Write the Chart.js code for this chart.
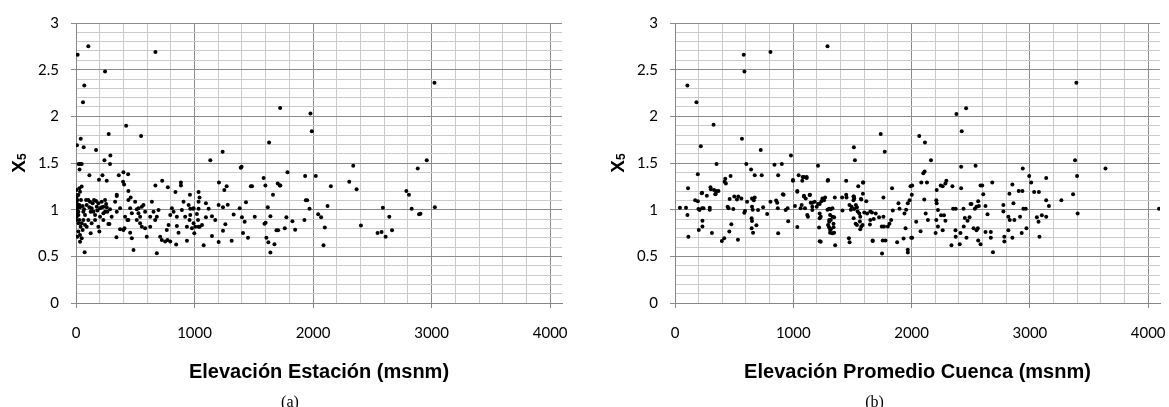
<!DOCTYPE html>
<html lang="es">

<head>
    <meta charset="UTF-8">
    <script src="https://cdn.jsdelivr.net/npm/chart.js"></script>
    <title>x5 vs elevación</title>
    <style>
        body { margin: 0; background: #fff; }
        .graficos { display: flex; width: 1169px; height: 407px; }
        .panel { position: relative; height: 407px; }
        .panel canvas { display: block; }
        .letra {
            position: absolute; left: 0; right: 0; top: 393px;
            text-align: center; line-height: 16px;
            font: 16px "Liberation Serif", serif; color: #000;
        }
    </style>
</head>

<body>
    <div class="graficos">
        <div class="panel" style="width:580px">
            <canvas id="graficoEstacion" width="580" height="407"></canvas>
            <div class="letra">(a)</div>
        </div>
        <div class="panel" style="width:589px">
            <canvas id="graficoCuenca" width="589" height="407"></canvas>
            <div class="letra">(b)</div>
        </div>
    </div>
</body>

</html>
<script>
    // marcas principales de los ejes
    const ticksElevacion = [0, 1000, 2000, 3000, 4000];
    const ticksX5 = [0, 0.5, 1, 1.5, 2, 2.5, 3];

    // (a) [elevación estación (msnm), x5]
    const estacion = [
        [14,2.66],[104,2.75],[245,2.48],[70,2.33],[59,2.15],[670,2.69],[423,1.90],[549,1.79],[276,1.81],[40,1.76],
        [8,1.69],[65,1.67],[169,1.64],[290,1.58],[240,1.53],[287,1.49],[22,1.49],[35,1.49],[48,1.49],[1133,1.53],
        [1237,1.62],[1397,1.46],[1390,1.45],[1629,1.72],[1722,2.09],[1784,1.40],[30,1.43],[113,1.37],[223,1.37],[259,1.31],
        [194,1.32],[400,1.40],[440,1.38],[361,1.37],[397,1.30],[406,1.27],[670,1.26],[727,1.31],[885,1.29],[885,1.26],
        [1206,1.29],[1271,1.25],[1251,1.21],[1485,1.25],[1475,1.25],[1583,1.34],[1598,1.26],[1702,1.28],[1720,1.26],[1662,1.16],
        [839,1.19],[961,1.16],[1034,1.19],[1042,1.13],[344,1.16],[442,1.20],[461,1.13],[775,1.24],[1978,2.03],[1989,1.84],
        [3024,2.36],[2959,1.53],[2883,1.44],[2339,1.47],[2305,1.30],[2367,1.22],[1724,1.26],[1933,1.36],[2023,1.36],[2150,1.25],
        [1939,1.10],[1950,1.10],[1970,1.01],[2122,1.04],[2043,0.95],[2068,0.92],[2099,0.81],[2088,0.62],[1775,0.92],[1826,0.875],
        [1761,0.80],[1849,0.785],[1927,0.89],[2404,0.83],[2589,1.02],[2643,0.925],[2666,0.78],[2544,0.75],[2578,0.76],[2612,0.71],
        [2787,1.20],[2809,1.16],[2832,1.01],[2894,0.95],[2906,0.955],[3027,1.025],
        [3,1.157],[6,1.14],[2,1.12],[11,1.104],[20,1.157],[34,1.193],[48,1.247],[28,1.229],[6,1.068],[4,1.032],
        [11,1.015],[34,1.025],[20,0.979],[3,0.961],[6,0.925],[28,0.89],[48,0.854],[62,0.89],[76,0.836],[39,0.818],
        [56,0.783],[20,0.765],[34,0.729],[48,0.693],[11,0.711],[62,0.979],[76,0.943],[90,1.05],[104,1.104],[118,1.086],
        [132,1.015],[147,0.979],[161,0.943],[175,1.032],[152,1.104],[189,1.068],[203,1.015],[217,1.086],[231,1.032],[245,1.104],
        [259,1.025],[231,0.961],[203,0.925],[161,0.89],[132,0.854],[104,0.89],[90,0.818],[73,0.543],[124,0.747],[189,0.818],
        [197,0.765],[273,0.847],[282,0.847],[231,0.89],[245,0.979],
        [3,1.21],[3,1.086],[3,0.997],[11,0.943],[3,0.89],[20,0.854],[28,1.05],[42,1.104],[56,1.04],[68,1.004],
        [85,1.104],[113,1.025],[124,0.979],[141,1.068],[169,1.093],[180,0.99],[217,1.025],[254,1.061],[265,0.979],[287,1.004],
        [301,0.925],[34,0.657],[20,0.943],
        [341,0.704],[372,0.79],[409,0.80],[457,0.754],[471,0.693],[485,0.568],[513,0.89],[527,0.961],[541,0.925],[555,1.032],
        [569,1.05],[583,0.979],[555,0.818],[583,0.80],[597,0.711],[626,0.818],[626,0.925],[640,1.086],[654,0.979],[668,0.89],
        [682,0.925],[696,0.997],[710,0.711],[724,0.675],[752,0.658],[772,0.675],[795,0.658],[766,0.783],[781,0.836],[795,0.943],
        [809,1.015],[823,0.979],[851,0.925],[851,0.825],[865,0.754],[845,0.628],[893,0.997],[907,1.086],[921,0.925],[936,0.818],
        [936,0.668],[950,1.05],[958,0.89],[992,1.015],[1006,0.818],[1020,0.954],[1034,1.086],[1029,0.89],[1034,0.818],[682,0.532],
        [442,1.104],[457,1.015],[471,0.961],[442,0.89],[414,0.925],[372,1.015],[344,0.979],[330,1.086],[344,1.147],[400,0.783],
        [434,0.89],[499,1.086],[527,1.015],[541,0.854],[513,1.004],
        [1096,1.07],[964,1.01],[987,1.01],[1034,1.01],[1119,1.01],[1203,1.05],[1240,1.025],[1280,1.054],[1381,1.015],[1434,1.08],
        [1618,1.025],[964,0.943],[992,0.854],[978,0.80],[998,0.747],[1043,0.818],[1063,0.836],[1096,0.92],[1147,0.93],[1175,0.89],
        [1260,0.843],[1240,0.775],[1147,0.718],[1077,0.62],[1203,0.654],[1313,0.668],[1330,0.947],[1400,0.92],[1423,0.87],[1409,0.75],
        [1451,0.70],[1508,0.925],[1640,0.93],[1590,0.85],[1600,0.86],[1606,0.70],[1623,0.65],[1674,0.63],[1640,0.54],[1691,0.78],
        [1705,0.78]
    ];

    // (b) [elevación promedio cuenca (msnm), x5]
    const cuenca = [
        [105,2.33],[181,2.15],[326,1.91],[218,1.68],[351,1.49],[193,1.38],[110,1.23],[581,2.66],[587,2.48],[807,2.69],
        [1289,2.75],[566,1.76],[725,1.64],[980,1.58],[603,1.49],[643,1.43],[674,1.37],[733,1.37],[841,1.48],[903,1.49],
        [872,1.37],[1209,1.47],[1045,1.37],[1079,1.35],[1113,1.34],[997,1.31],[1076,1.31],[1291,1.31],[1447,1.31],[1512,1.67],
        [1521,1.53],[1549,1.25],[1589,1.29],[1739,1.81],[229,1.18],[269,1.15],[303,1.22],[330,1.21],[350,1.20],[367,1.20],
        [345,1.17],[419,1.30],[470,1.36],[425,1.33],[430,1.28],[501,1.14],[535,1.14],[918,1.16],[1034,1.20],[1090,1.15],
        [1141,1.16],[1447,1.16],[1512,1.14],
        [3393,2.36],[2379,2.025],[2461,2.086],[2424,1.84],[1773,1.62],[2065,1.79],[2113,1.72],[2164,1.53],[2419,1.46],[2541,1.47],
        [3382,1.53],[3639,1.44],[3399,1.36],[3365,1.165],[3404,0.96],[3266,1.10],[4092,1.01],[2940,1.44],[2994,1.36],[3011,1.29],
        [3138,1.34],[3036,1.19],[3076,1.19],[3138,1.10],[3161,1.04],[3101,0.94],[3138,0.925],[3059,0.92],[3073,0.87],[3081,0.71],
        [2971,0.80],[2931,0.75],[2945,1.01],[2965,1.01],[2917,0.925],[2906,1.20],[2937,1.20],[2852,1.27],[2861,1.07],[2827,1.17],
        [2818,0.925],[2830,0.89],[2869,0.89],[2776,1.05],[2776,0.98],[2784,0.71],[2784,0.66],[2818,0.78],[2852,0.70],[2682,1.29],
        [2688,0.543],[2625,1.04],[2642,0.95],[2606,1.165],[2583,1.26],[2597,1.26],[2563,1.09],[2569,1.04],[2549,1.03],[2535,1.01],
        [2498,1.06],[2506,1.06],[2490,0.92],[2473,0.88],[2524,0.80],[2549,0.78],[2560,0.80],[2563,0.67],[2583,0.63],[2625,0.76],
        [2670,0.76],[2670,0.70],[2439,1.01],[2450,0.91],[2441,0.82],[2413,0.75],[2464,0.70],[2407,0.63],[2371,0.78],[2373,0.71],
        [2337,0.62],[2351,1.01],[2373,1.01],[2419,1.23],[2345,1.25],[2294,1.31],[2286,1.28],[2263,1.25],[2246,1.26],[2212,1.21],
        [2130,1.29],[2099,1.39],[2110,1.41],[2082,1.29],[2005,1.26],[1991,1.25],[2002,1.16],[1983,1.10],[1968,1.07],[1954,1.00],
        [1940,0.96],[1889,1.07],[1898,1.01],[1835,1.23],[1841,0.99],[1827,0.89],[1813,0.85],[1799,0.82],[1767,0.82],[1748,0.82],
        [1762,0.925],[1762,1.13],[1697,0.96],[1665,0.97],[1651,0.89],[1680,0.90],[1725,0.92],[1750,0.53],[1756,0.67],[1779,0.67],
        [1671,0.67],[1878,0.65],[1932,0.69],[1949,0.80],[1968,0.57],[1968,0.54],[1997,0.70],[2005,0.70],[2039,0.87],[2076,0.77],
        [2138,0.89],[2119,0.96],[2107,1.11],[2209,1.10],[2212,1.07],[2223,0.997],[2249,0.94],[2274,0.94],[2209,0.89],[2223,0.82],
        [2286,0.88],[2263,0.78],[2203,0.75],[1617,1.09],[1575,1.11],[1592,1.29],[1600,0.97],[1648,0.84],
        [226,1.175],[300,1.24],[340,1.164],[170,1.10],[193,1.09],[198,1.007],[207,0.997],[229,1.015],[241,1.015],[294,1.02],
        [294,1.00],[42,1.02],[93,1.02],[105,0.943],[113,0.711],[232,0.88],[232,0.82],[201,0.782],[312,0.75],[396,0.665],
        [416,0.693],[459,0.765],[476,0.843],[445,1.03],[453,1.015],[462,1.115],[524,1.11],[561,1.12],[493,1.007],[532,0.679],
        [592,0.986],[586,0.968],[609,1.086],[651,1.12],[666,1.10],[674,1.13],[651,1.032],[648,0.907],[651,0.879],[648,0.80],
        [660,0.754],[688,0.832],[702,0.997],[745,1.025],[779,0.954],[807,1.086],[855,1.097],[864,1.075],[869,1.015],[872,0.747],
        [912,1.165],[935,0.997],[952,1.015],[957,0.875],[997,1.318],[1014,1.04],[1034,1.193],[1034,0.815],[1090,1.35],[1113,1.35],
        [1071,1.05],[1062,1.015],[1090,1.14],[1105,1.12],[1138,1.157],[1099,1.015],[1118,0.943],[1124,0.925],[1147,1.075],[1161,1.075],
        [1181,1.086],[1161,0.997],[1161,1.032],[1223,1.06],[1238,1.09],[1260,1.10],[1269,1.13],[1223,0.96],[1223,0.907],[1218,0.81],
        [1223,0.661],[1294,1.318],[1289,1.0],[1311,0.943],[1304,0.89],[1311,0.782],[1198,1.03],[1209,1.06],
        [1246,1.12],[1351,1.13],[1413,1.13],[1450,1.13],[1509,1.14],[1515,1.12],[1509,1.10],[1572,1.115],[1475,1.05],[1493,1.03],
        [1487,1.0],[1529,1.05],[1538,1.025],[1331,1.015],[1317,1.005],[1331,0.925],[1345,0.918],[1317,0.89],[1340,0.85],[1303,0.87],
        [1294,0.836],[1303,0.811],[1317,0.79],[1340,0.811],[1345,0.754],[1331,0.747],[1311,0.754],[1354,0.62],[1232,0.925],[1232,0.657],
        [1416,0.99],[1470,0.693],[1476,0.65],[1515,1.007],[1510,0.907],[1527,0.85],[1538,0.836],[1566,0.925],[1563,0.872],[1586,0.836],
        [1575,0.82],[1566,0.79],[1544,0.98],[1558,0.96],[1651,0.98],[1671,0.665],[657,1.0],[1303,1.01],[1589,1.17],[1624,0.96]
    ];

    function esMarca(lista, v) {
        return lista.some(t => Math.abs(t - v) < 1e-6);
    }

    // titulo del eje y: X con subindice 5, girado
    const tituloY = {
        id: 'tituloY',
        afterDraw(chart, args, opts) {
            const c = chart.ctx;
            const area = chart.chartArea;
            c.save();
            c.translate(opts.x, (area.top + area.bottom) / 2);
            c.rotate(-Math.PI / 2);
            c.fillStyle = '#000';
            c.textBaseline = 'alphabetic';
            c.font = 'bold 19px "Liberation Sans"';
            const anchoX = c.measureText('X').width;
            c.font = 'bold 12px "Liberation Sans"';
            const ancho5 = c.measureText('5').width;
            const inicio = -(anchoX + ancho5) / 2;
            c.font = 'bold 19px "Liberation Sans"';
            c.fillText('X', inicio, 7);
            c.font = 'bold 12px "Liberation Sans"';
            c.fillText('5', inicio + anchoX, 8);
            c.restore();
        }
    };

    function crearGrafico(id, puntos, tituloX, anchoEjeY, margenDerecho, posTituloY) {
        return new Chart(document.getElementById(id), {
            type: 'scatter',
            data: {
                datasets: [{
                    data: puntos.map(p => ({ x: p[0], y: p[1] })),
                    backgroundColor: '#000',
                    borderColor: '#000',
                    borderWidth: 0,
                    pointRadius: 2,
                    pointHoverRadius: 2
                }]
            },
            options: {
                responsive: false,
                animation: false,
                layout: { padding: { top: 23, right: margenDerecho, left: 0, bottom: 0 } },
                plugins: {
                    legend: { display: false },
                    tooltip: { enabled: false },
                    tituloY: { x: posTituloY }
                },
                scales: {
                    x: {
                        type: 'linear',
                        min: 0,
                        max: 4100,
                        // el area de trazado no se encoge por el ancho de las etiquetas
                        afterFit: s => { s.height = 104; s.paddingLeft = 0; s.paddingRight = 0; },
                        border: { color: '#868686' },
                        grid: {
                            color: c => esMarca(ticksElevacion, c.tick.value) ? '#8c8c8c' : '#cbcbcb',
                            tickColor: c => esMarca(ticksElevacion, c.tick.value) ? '#8c8c8c' : 'rgba(0,0,0,0)',
                            tickLength: 5
                        },
                        ticks: {
                            stepSize: 200,
                            includeBounds: false,
                            autoSkip: false,
                            maxRotation: 0,
                            padding: 16,
                            color: '#000',
                            font: { family: 'Lato', size: 15 },
                            callback: v => esMarca(ticksElevacion, v) ? String(v) : ''
                        },
                        title: {
                            display: true,
                            text: tituloX,
                            color: '#000',
                            font: { family: 'Liberation Sans', size: 20, weight: 'bold' },
                            padding: { top: 0, bottom: 23 }
                        }
                    },
                    y: {
                        min: 0,
                        max: 3,
                        afterFit: s => { s.width = anchoEjeY; },
                        border: { color: '#868686' },
                        grid: {
                            color: c => esMarca(ticksX5, c.tick.value) ? '#8c8c8c' : '#cbcbcb',
                            tickColor: c => esMarca(ticksX5, c.tick.value) ? '#8c8c8c' : 'rgba(0,0,0,0)',
                            tickLength: 5
                        },
                        ticks: {
                            stepSize: 0.1,
                            autoSkip: false,
                            padding: 12,
                            color: '#000',
                            font: { family: 'Lato', size: 15 },
                            callback: v => esMarca(ticksX5, v) ? String(Math.round(v * 10) / 10) : ''
                        }
                    }
                }
            },
            plugins: [tituloY]
        });
    }

    const graficoEstacion = crearGrafico('graficoEstacion', estacion, 'Elevación Estación (msnm)', 76, 18, 17.5);
    const graficoCuenca = crearGrafico('graficoCuenca', cuenca, 'Elevación Promedio Cuenca (msnm)', 95, 9, 37);
</script>
